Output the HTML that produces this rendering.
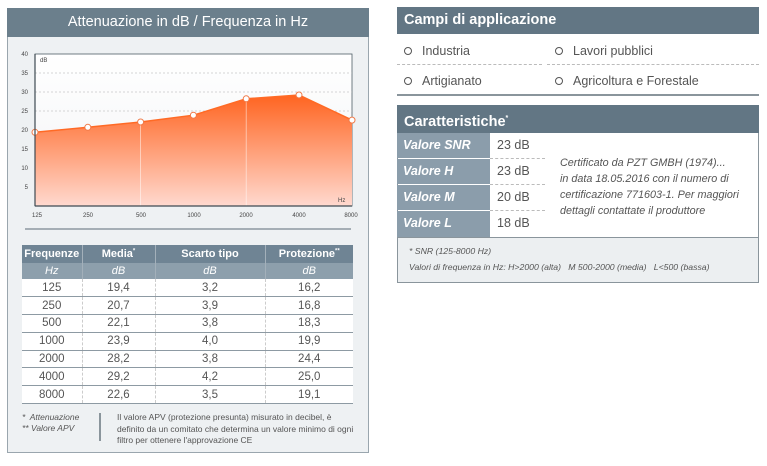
<!DOCTYPE html>
<html><head><meta charset="utf-8">
<style>
*{margin:0;padding:0;box-sizing:border-box}
body{width:767px;height:466px;background:#fff;font-family:"Liberation Sans",sans-serif;position:relative;overflow:hidden;color:#555}
.a{position:absolute}
.panel{left:7px;top:8px;width:362px;height:445px;background:#eef1f3;border:1px solid #9aa6ae}
.title{left:7px;top:8px;width:362px;height:29px;background:#6b7f8c;color:#fff;font-size:14.5px;text-align:center;line-height:29px}
table{border-collapse:collapse}
.tb{left:22px;top:245px;width:331px;font-size:11.5px;color:#555}
.tb td{text-align:center;height:17.8px;border-bottom:1.5px solid #8d9aa3;border-left:1px dashed #ccc;background:#fff;padding:0}
.tb td:first-child{border-left:none}
.tb th{color:#fff;font-weight:bold;font-size:11px;background:#6f8494;height:18px;border-left:1px solid #a3b0ba}
.tb th:first-child{border-left:none}
.tb tr.sub th{background:#8d9fac;font-weight:normal;font-style:italic;height:16px}
.hdr{background:#627684;color:#fff;font-weight:bold;font-size:14.5px;padding-left:7px}
.it{font-size:12.5px;color:#555}
.circ{display:inline-block;width:8px;height:8px;border:1.6px solid #555;border-radius:50%;margin-right:10px;vertical-align:0px}
.lab{background:#8b9dab;color:#fff;font-weight:bold;font-style:italic;font-size:12.5px;padding-left:6px;line-height:25px}
.val{font-size:12.5px;color:#555;padding-left:7px;line-height:25px;background:#fff}
</style></head><body>
<div class="a panel"></div>
<div class="a title">Attenuazione in dB / Frequenza in Hz</div>
<svg class="a" style="left:0;top:0" width="380" height="240" viewBox="0 0 380 240">
<defs>
<linearGradient id="g" x1="0" y1="0" x2="0" y2="1">
<stop offset="0" stop-color="#ff6420"/>
<stop offset="1" stop-color="#ffd9cf"/>
</linearGradient>
<linearGradient id="bg" x1="0" y1="0" x2="0" y2="1">
<stop offset="0" stop-color="#ffffff"/>
<stop offset="1" stop-color="#f2f3f5"/>
</linearGradient>
</defs>
<rect x="35" y="54" width="317" height="152" fill="url(#bg)" stroke="#4e5d66" stroke-width="0.8"/>
<g stroke="#c8c8c8" stroke-width="0.7" stroke-dasharray="2,2">
<line x1="35" y1="73" x2="352" y2="73"/>
<line x1="35" y1="92" x2="352" y2="92"/>
<line x1="35" y1="111" x2="352" y2="111"/>
</g>
<polygon fill="url(#g)" points="35,206 35,132.3 87.8,127.3 140.6,122 193.4,115.2 246.2,98.8 299,95 352,120.1 352,206"/>
<polyline fill="none" stroke="#ff6a25" stroke-width="1.5" points="35,132.3 87.8,127.3 140.6,122 193.4,115.2 246.2,98.8 299,95 352,120.1"/>
<g stroke="#fff" stroke-opacity="0.6" stroke-width="0.8">
<line x1="140.6" y1="123" x2="140.6" y2="206"/>
<line x1="246.2" y1="100" x2="246.2" y2="206"/>
</g>
<g fill="#fff" stroke="#f07a48" stroke-width="1">
<circle cx="35" cy="132.3" r="3"/><circle cx="87.8" cy="127.3" r="3"/><circle cx="140.6" cy="122" r="3"/><circle cx="193.4" cy="115.2" r="3"/><circle cx="246.2" cy="98.8" r="3"/><circle cx="299" cy="95" r="3"/><circle cx="352" cy="120.1" r="3"/>
</g>
<line x1="35" y1="54" x2="35" y2="206" stroke="#3e4a52" stroke-width="1.2"/>
<line x1="35" y1="206" x2="352" y2="206" stroke="#3e4a52" stroke-width="1.2"/>
<g font-size="6" fill="#444" font-family="Liberation Sans">
<text x="28" y="56" text-anchor="end">40</text>
<text x="28" y="75" text-anchor="end">35</text>
<text x="28" y="94" text-anchor="end">30</text>
<text x="28" y="113" text-anchor="end">25</text>
<text x="28" y="132" text-anchor="end">20</text>
<text x="28" y="151" text-anchor="end">15</text>
<text x="28" y="170" text-anchor="end">10</text>
<text x="28" y="189" text-anchor="end">5</text>
<text x="40" y="62">dB</text>
<text x="338" y="202">Hz</text>
<text x="37" y="217" text-anchor="middle">125</text>
<text x="88" y="217" text-anchor="middle">250</text>
<text x="141" y="217" text-anchor="middle">500</text>
<text x="194" y="217" text-anchor="middle">1000</text>
<text x="246" y="217" text-anchor="middle">2000</text>
<text x="299" y="217" text-anchor="middle">4000</text>
<text x="351" y="217" text-anchor="middle">8000</text>
</g>
<line x1="25" y1="229" x2="351" y2="229" stroke="#7a8790" stroke-width="1.2"/>
</svg>

<table class="a tb">
<tr><th style="width:60px">Frequenze</th><th style="width:73px">Media<sup style="font-size:6px">*</sup></th><th style="width:110px">Scarto tipo</th><th>Protezione<sup style="font-size:6px">**</sup></th></tr>
<tr class="sub"><th>Hz</th><th>dB</th><th>dB</th><th>dB</th></tr>
<tr><td>125</td><td>19,4</td><td>3,2</td><td>16,2</td></tr>
<tr><td>250</td><td>20,7</td><td>3,9</td><td>16,8</td></tr>
<tr><td>500</td><td>22,1</td><td>3,8</td><td>18,3</td></tr>
<tr><td>1000</td><td>23,9</td><td>4,0</td><td>19,9</td></tr>
<tr><td>2000</td><td>28,2</td><td>3,8</td><td>24,4</td></tr>
<tr><td>4000</td><td>29,2</td><td>4,2</td><td>25,0</td></tr>
<tr><td>8000</td><td>22,6</td><td>3,5</td><td>19,1</td></tr>
</table>

<div class="a" style="left:22px;top:412px;font-size:8.5px;font-style:italic;color:#555;line-height:11px">*&nbsp; Attenuazione<br>** Valore APV</div>
<div class="a" style="left:99px;top:413px;width:1.5px;height:28px;background:#8a959c"></div>
<div class="a" style="left:117px;top:412px;font-size:8.5px;color:#555;line-height:11.5px;width:240px">Il valore APV (protezione presunta) misurato in decibel, è definito da un comitato che determina un valore minimo di ogni filtro per ottenere l'approvazione CE</div>

<!-- Right side -->
<div class="a hdr" style="left:397px;top:7px;width:362px;height:27px;line-height:27px">Campi di applicazione</div>
<div class="a it" style="left:404px;top:44px"><span class="circ"></span>Industria</div>
<div class="a it" style="left:555px;top:44px"><span class="circ"></span>Lavori pubblici</div>
<div class="a" style="left:397px;top:64px;width:145px;border-top:1px dashed #bbb"></div>
<div class="a" style="left:547px;top:64px;width:212px;border-top:1px dashed #bbb"></div>
<div class="a it" style="left:404px;top:74px"><span class="circ"></span>Artigianato</div>
<div class="a it" style="left:555px;top:74px"><span class="circ"></span>Agricoltura e Forestale</div>
<div class="a" style="left:397px;top:94px;width:362px;height:2px;background:#8a959c"></div>

<div class="a" style="left:397px;top:105px;width:362px;height:178px;border:1px solid #8a959c;background:#fff"></div>
<div class="a hdr" style="left:397px;top:105px;width:362px;height:28px;line-height:28px">Caratteristiche<sup style="font-size:7px">*</sup></div>
<div class="a lab" style="left:397px;top:133px;width:93px;height:25px">Valore SNR</div>
<div class="a lab" style="left:397px;top:159px;width:93px;height:25px">Valore H</div>
<div class="a lab" style="left:397px;top:185px;width:93px;height:25px">Valore M</div>
<div class="a lab" style="left:397px;top:211px;width:93px;height:26px">Valore L</div>
<div class="a val" style="left:490px;top:133px;width:52px;height:25px">23 dB</div>
<div class="a val" style="left:490px;top:159px;width:52px;height:25px">23 dB</div>
<div class="a val" style="left:490px;top:185px;width:52px;height:25px">20 dB</div>
<div class="a val" style="left:490px;top:211px;width:52px;height:26px">18 dB</div>
<div class="a" style="left:490px;top:158px;width:55px;border-top:1px dashed #bbb"></div>
<div class="a" style="left:490px;top:184px;width:55px;border-top:1px dashed #bbb"></div>
<div class="a" style="left:490px;top:210px;width:55px;border-top:1px dashed #bbb"></div>
<div class="a" style="left:560px;top:155px;font-size:10.8px;font-style:italic;color:#555;line-height:16px;width:198px">Certificato da PZT GMBH (1974)...<br>in data 18.05.2016 con il numero di<br>certificazione 771603-1. Per maggiori<br>dettagli contattate il produttore</div>
<div class="a" style="left:398px;top:237px;width:360px;height:45px;background:#eceff1;border-top:1px solid #8a959c"></div>
<div class="a" style="left:409px;top:243px;font-size:8.7px;font-style:italic;color:#555;line-height:16px">* SNR (125-8000 Hz)<br>Valori di frequenza in Hz: H&gt;2000 (alta) &nbsp;&nbsp;M 500-2000 (media) &nbsp;&nbsp;L&lt;500 (bassa)</div>
</body></html>
